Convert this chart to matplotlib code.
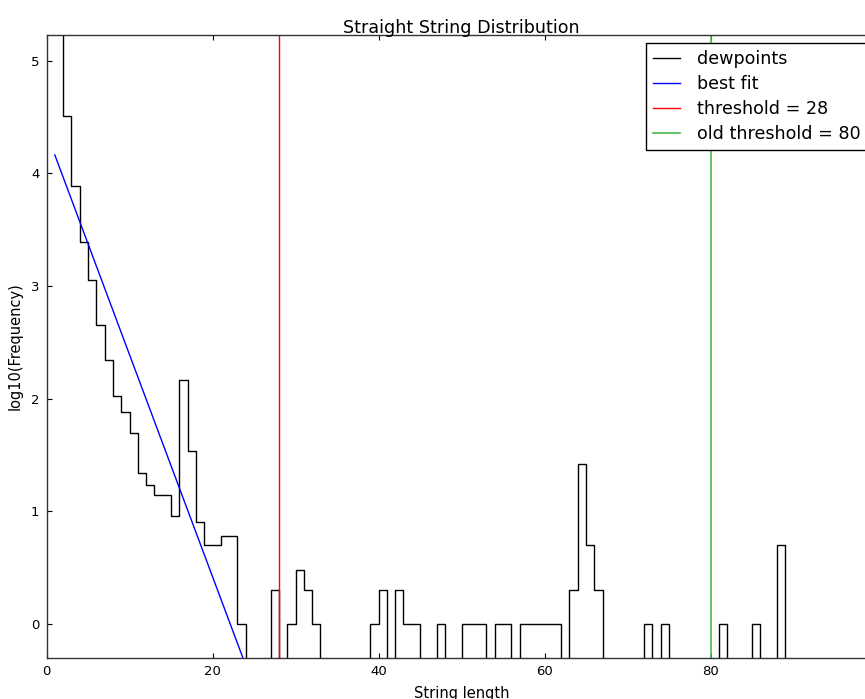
import numpy as np
import matplotlib
matplotlib.use('Agg')
import matplotlib.pyplot as plt

# string length bins and how many strings fell in each
lengths = np.arange(1, 101)
counts = [350000, 32400, 7760, 2450, 1130, 450, 219, 106, 76, 49,
          22, 17, 14, 14, 9, 146, 34, 8, 5, 5,
          6, 6, 1, 0, 0, 0, 2, 0, 1, 3,
          2, 1, 0, 0, 0, 0, 0, 0, 1, 2,
          0, 2, 1, 1, 0, 0, 1, 0, 0, 1,
          1, 1, 0, 1, 1, 0, 1, 1, 1, 1,
          1, 0, 2, 26, 5, 2, 0, 0, 0, 0,
          0, 1, 0, 1, 0, 0, 0, 0, 0, 0,
          1, 0, 0, 0, 1, 0, 0, 5, 0, 0,
          0, 0, 0, 0, 0, 0, 0, 0, 0, 0]

fit_intercept = 4.36
fit_slope = -0.197
threshold = 28
old_threshold = 80

counts = np.array(counts, dtype=float)
# empty bins get pushed below the visible range
logc = np.where(counts > 0, np.log10(np.maximum(counts, 1)), -1.0)
fit_x = lengths[lengths <= 30]
fit_y = fit_intercept + fit_slope * fit_x

fig = plt.figure(figsize=(8.65, 6.99), dpi=100)
ax = fig.add_axes([46.5 / 865, 41.3 / 699, 830 / 865, 623 / 699])

ax.step(lengths, logc, where='post', color='k', lw=1, label='dewpoints')
ax.plot(fit_x, fit_y, color='b', lw=1, label='best fit')
ax.axvline(threshold, color='r', lw=1, label='threshold = %d' % threshold)
ax.axvline(old_threshold, color='#4cb84c', lw=1.2,
           label='old threshold = %d' % old_threshold)

ax.set_xlim(0, 100)
ax.set_ylim(-0.3, 5.23)
ax.set_xticks([0, 20, 40, 60, 80])
ax.set_yticks([0, 1, 2, 3, 4, 5])
ax.tick_params(direction='in', top=True, right=True, length=3.5,
               labelsize=9.5, pad=5)
for s in ax.spines.values():
    s.set_linewidth(1)
    s.set_color('#333333')

ax.set_title('Straight String Distribution', fontsize=12.6, pad=1.5)
ax.set_xlabel('String length', fontsize=10.5, labelpad=6)
ax.set_ylabel('log10(Frequency)', fontsize=10.5, labelpad=6)

leg = ax.legend(loc='upper right', fontsize=12.6, fancybox=False,
                framealpha=1, edgecolor='k', handlelength=1.5,
                handletextpad=1.0, borderpad=0.4, labelspacing=0.4,
                borderaxespad=0.5)
leg.get_frame().set_linewidth(1)

fig.savefig('out.png', dpi=100)
